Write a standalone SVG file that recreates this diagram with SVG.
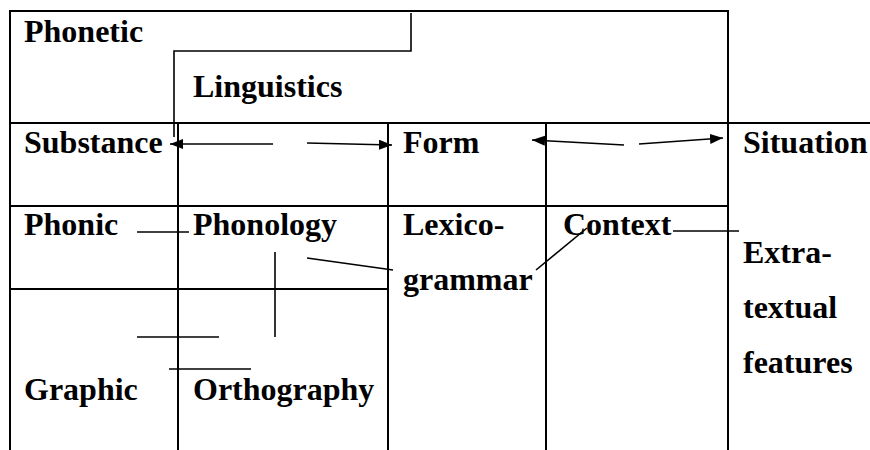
<svg xmlns="http://www.w3.org/2000/svg" width="870" height="450" viewBox="0 0 870 450">
<defs>
<style>
.grid{stroke:#000;stroke-width:2;fill:none}
.con{stroke:#000;stroke-width:1.6;fill:none}
.lbl{font-family:"Liberation Serif","Times New Roman",serif;font-weight:bold;font-size:32px;fill:#000}
</style>
<marker id="ah" markerUnits="userSpaceOnUse" markerWidth="14" markerHeight="12" refX="13" refY="5" orient="auto">
<path d="M0,0 L13,5 L0,10 z" fill="#000"/>
</marker>
</defs>
<rect width="870" height="450" fill="#fff"/>
<g id="grid" class="grid">
<polyline points="10,450 10,11 728,11 728,450"/>
<line x1="10" y1="123" x2="870" y2="123"/>
<line x1="10" y1="206" x2="728" y2="206"/>
<line x1="178" y1="123" x2="178" y2="450"/>
<line x1="388" y1="123" x2="388" y2="450"/>
<line x1="546" y1="123" x2="546" y2="450"/>
<line x1="10" y1="289" x2="388" y2="289"/>
</g>
<g id="connectors" class="con">
<polyline points="411,13 411,51 174,51 174,137"/>
<line x1="273" y1="144" x2="170" y2="144" marker-end="url(#ah)"/>
<line x1="307" y1="143" x2="392" y2="145" marker-end="url(#ah)"/>
<line x1="624" y1="145" x2="532" y2="140" marker-end="url(#ah)"/>
<line x1="639" y1="144" x2="723" y2="138" marker-end="url(#ah)"/>
<line x1="137" y1="232" x2="189" y2="232"/>
<line x1="275" y1="252" x2="275" y2="337"/>
<line x1="307" y1="258" x2="393" y2="270"/>
<line x1="137" y1="337" x2="219" y2="337"/>
<line x1="169" y1="369" x2="251" y2="369"/>
<line x1="673" y1="231" x2="739" y2="231"/>
<line x1="536" y1="270" x2="587" y2="228"/>
</g>
<g id="phonetic"><text class="lbl" x="24" y="42">Phonetic</text></g>
<g id="linguistics"><text class="lbl" x="193" y="97">Linguistics</text></g>
<g id="substance"><text class="lbl" x="24" y="153">Substance</text></g>
<g id="form"><text class="lbl" x="403" y="153">Form</text></g>
<g id="situation"><text class="lbl" x="743" y="153">Situation</text></g>
<g id="phonic"><text class="lbl" x="24" y="235">Phonic</text></g>
<g id="phonology"><text class="lbl" x="193" y="235">Phonology</text></g>
<g id="lexicogrammar"><text class="lbl" x="403" y="235">Lexico-</text><text class="lbl" x="403" y="290">grammar</text></g>
<g id="context"><text class="lbl" x="563" y="235">Context</text></g>
<g id="extratextual"><text class="lbl" x="743" y="263">Extra-</text><text class="lbl" x="743" y="318">textual</text><text class="lbl" x="743" y="373">features</text></g>
<g id="graphic"><text class="lbl" x="24" y="400">Graphic</text></g>
<g id="orthography"><text class="lbl" x="193" y="400">Orthography</text></g>
</svg>
